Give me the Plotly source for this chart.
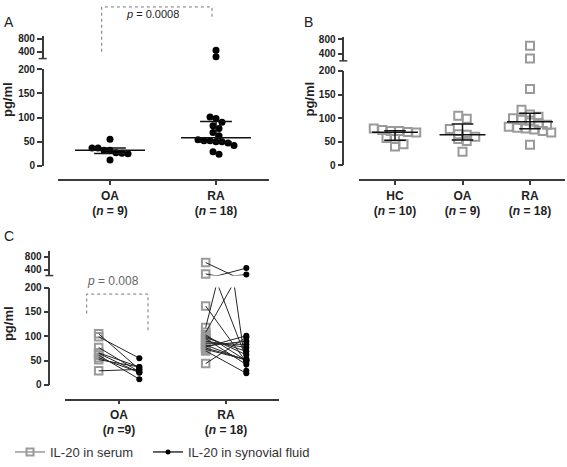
import numpy as np
import plotly.graph_objects as go

W, H = 567, 467

# ---------------- data (pg/ml) ----------------
A_CATS = ["OA<br>(<i>n</i> = 9)", "RA<br>(<i>n</i> = 18)"]
A_OA = [55, 37, 32, 27, 25, 26, 32, 37, 12]
A_RA = [450, 255, 98, 101, 90, 83, 77, 69, 62, 54, 52, 50, 47, 52, 50, 42, 29, 24]

B_CATS = ["HC<br>(<i>n</i> = 10)", "OA<br>(<i>n</i> = 9)", "RA<br>(<i>n</i> = 18)"]
B_HC = [78, 75, 73, 73, 71, 70, 58, 56, 45, 40]
B_OA = [105, 99, 77, 66, 65, 61, 56, 52, 29]
B_RA = [620, 270, 162, 118, 108, 103, 100, 97, 95, 90, 86, 82, 80, 78, 76, 73, 70, 44]

C_CATS = ["OA<br>(<i>n</i> =9)", "RA<br>(<i>n</i> = 18)"]
C_OA_SERUM = [105, 99, 77, 66, 65, 61, 56, 52, 29]
C_OA_SF = [32, 55, 27, 37, 25, 12, 26, 37, 32]
C_RA_SERUM = [620, 270, 162, 118, 108, 103, 100, 97, 95, 90, 86, 82, 80, 78, 76, 73, 70, 44]
C_RA_SF = [29, 54, 47, 450, 255, 50, 62, 69, 42, 77, 83, 50, 90, 101, 52, 52, 24, 98]

LO_TICKS = [0, 50, 100, 150, 200]
HI_TICKS = [400, 800]
P_A = "<i>p</i> = 0.0008"
P_C = "<i>p</i> = 0.008"
LEGEND = ["IL-20 in serum", "IL-20 in synovial fluid"]

# ---------------- styling / geometry ----------------
FONT = "Liberation Sans, Arial, sans-serif"
AX = "#3a3a3a"
GREY = "#9a9a9a"
BREAK = 200


def px(x):
    return x / W


def py(y):
    return 1 - y / H


GEOM = {
    "A": dict(yx=42.7, lo=(165, 66), hi=(55, 31.7), hi_range=(203, 879),
              xline=180, xpx=(58, 269), cat0=110, step=106,
              xa="xaxis", ylo="yaxis", yhi="yaxis2", xr="x", ylr="y", yhr="y2"),
    "B": dict(yx=343.3, lo=(164.7, 67.7), hi=(57.3, 33.3), hi_range=(205, 845),
              xline=180, xpx=(359, 565), cat0=395, step=67.5,
              xa="xaxis2", ylo="yaxis3", yhi="yaxis4", xr="x2", ylr="y3", yhr="y4"),
    "C": dict(yx=49.3, lo=(390, 290), hi=(277.7, 252.7), hi_range=(221, 967),
              xline=405, xpx=(65, 279), cat0=119, step=107,
              xa="xaxis3", ylo="yaxis5", yhi="yaxis6", xr="x3", ylr="y5", yhr="y6"),
}

layout = dict(
    width=W, height=H, margin=dict(l=0, r=0, t=0, b=0),
    paper_bgcolor="white", plot_bgcolor="white",
    font=dict(family=FONT, color="#222"),
    showlegend=True,
)

shapes, annotations = [], []


def setup_axes(g, cats):
    layout[g["xa"]] = dict(
        domain=[px(g["xpx"][0]), px(g["xpx"][1])],
        range=[(g["xpx"][0] - g["cat0"]) / g["step"], (g["xpx"][1] - g["cat0"]) / g["step"]],
        anchor="free", position=py(g["xline"]),
        tickmode="array", tickvals=list(range(len(cats))), ticktext=cats,
        showline=True, linecolor=AX, linewidth=1.5,
        ticks="outside", ticklen=4, tickwidth=1.5, tickcolor=AX,
        showgrid=False, zeroline=False,
        tickfont=dict(size=12, family=FONT, color="#222", weight="bold"),
    )
    common = dict(anchor="free", position=px(g["yx"]), showline=True, linecolor=AX,
                  linewidth=1.5, ticks="outside", ticklen=5, tickwidth=1.5, tickcolor=AX,
                  showgrid=False, zeroline=False, tickmode="array",
                  tickfont=dict(size=10, family=FONT, color="#222", weight="bold"))
    layout[g["ylo"]] = dict(domain=[py(g["lo"][0]), py(g["lo"][1])], range=[0, BREAK],
                            tickvals=LO_TICKS, **common)
    layout[g["yhi"]] = dict(domain=[py(g["hi"][0]), py(g["hi"][1])], range=list(g["hi_range"]),
                            tickvals=HI_TICKS, **common)
    # break mark at bottom of upper segment
    shapes.append(dict(type="line", xref="paper", yref="paper",
                       x0=px(g["yx"] - 4), x1=px(g["yx"] + 4),
                       y0=py(g["hi"][0]), y1=py(g["hi"][0]),
                       line=dict(color=AX, width=1.5)))


def to_px(g, v):
    lo_scale = (g["lo"][0] - g["lo"][1]) / BREAK
    if v <= BREAK:
        return v * lo_scale
    hi_scale = (g["hi"][0] - g["hi"][1]) / (g["hi_range"][1] - g["hi_range"][0])
    return (g["lo"][0] - g["hi"][0]) + (v - g["hi_range"][0]) * hi_scale


def swarm(g, vals, diam, spacing):
    n = len(vals)
    order = sorted(range(n), key=lambda i: -vals[i])
    bins = []
    for i in order:
        p = to_px(g, vals[i])
        if bins and abs(bins[-1][0] - p) < diam:
            bins[-1][1].append(i)
        else:
            bins.append([p, [i]])
    offs = [0.0] * n
    for _, idx in bins:
        k = len(idx)
        for j, i in enumerate(idx):
            offs[i] = (j - (k - 1) / 2) * spacing / g["step"]
    return offs


def split(xs, ys):
    lo = [(x, y) for x, y in zip(xs, ys) if y <= BREAK]
    hi = [(x, y) for x, y in zip(xs, ys) if y > BREAK]
    return lo, hi


def add_points(g, xs, ys, marker):
    lo, hi = split(xs, ys)
    for pts, yr in ((lo, g["ylr"]), (hi, g["yhr"])):
        if not pts:
            continue
        fig_traces.append(go.Scatter(
            x=[p[0] for p in pts], y=[p[1] for p in pts], mode="markers",
            xaxis=g["xr"], yaxis=yr, marker=marker, cliponaxis=False,
            showlegend=False, hoverinfo="y"))


def add_median_iqr(g, cat, vals, half, cap):
    med = float(np.median(vals))
    q1, q3 = np.percentile(vals, [25, 75], method="weibull")
    xs = [cat - half, cat + half, None, cat - cap, cat + cap, None,
          cat - cap, cat + cap, None, cat, cat]
    ys = [med, med, None, q1, q1, None, q3, q3, None, q1, q3]
    fig_traces.append(go.Scatter(x=xs, y=ys, mode="lines", xaxis=g["xr"], yaxis=g["ylr"],
                                 line=dict(color="#111", width=1.5), showlegend=False,
                                 hoverinfo="skip"))


fig_traces = []

# ---------------- Panel A ----------------
gA = GEOM["A"]
setup_axes(gA, A_CATS)
dot = dict(color="#000", size=7)
for cat, vals in enumerate([A_OA, A_RA]):
    offs = swarm(gA, vals, 6.5, 6.0)
    add_points(gA, [cat + o for o in offs], vals, dot)
    add_median_iqr(gA, cat, vals, 0.33, 0.15)

# ---------------- Panel B ----------------
gB = GEOM["B"]
setup_axes(gB, B_CATS)
sq = dict(symbol="square-open", color=GREY, size=8, line=dict(width=2, color=GREY))
for cat, vals in enumerate([B_HC, B_OA, B_RA]):
    offs = swarm(gB, vals, 8.5, 8.5)
    add_points(gB, [cat + o for o in offs], vals, sq)
    add_median_iqr(gB, cat, vals, 0.34, 0.16)

# ---------------- Panel C ----------------
gC = GEOM["C"]
setup_axes(gC, C_CATS)
OFF = 0.19
sqc = dict(symbol="square-open", color=GREY, size=7.5, line=dict(width=2, color=GREY))
dotc = dict(color="#000", size=6)
for cat, ser, sf in ((0, C_OA_SERUM, C_OA_SF), (1, C_RA_SERUM, C_RA_SF)):
    add_points(gC, [cat - OFF] * len(ser), ser, sqc)
    lx, ly = [], []
    for s, f in zip(ser, sf):
        lx += [cat - OFF, cat + OFF, None]
        ly += [s, f, None]
    for yr in (gC["ylr"], gC["yhr"]):
        fig_traces.append(go.Scatter(x=lx, y=ly, mode="lines", xaxis=gC["xr"], yaxis=yr,
                                     line=dict(color="#262626", width=1), showlegend=False,
                                     hoverinfo="skip"))
    add_points(gC, [cat + OFF] * len(sf), sf, dotc)

# legend entries (two separately placed legends)
fig_traces.append(go.Scatter(x=[None], y=[None], mode="lines+markers", name=LEGEND[0],
                             xaxis="x3", yaxis="y5", legend="legend",
                             line=dict(color=GREY, width=1.5),
                             marker=dict(symbol="square-open", color=GREY, size=7,
                                         line=dict(width=2, color=GREY))))
fig_traces.append(go.Scatter(x=[None], y=[None], mode="lines+markers", name=LEGEND[1],
                             xaxis="x3", yaxis="y5", legend="legend2",
                             line=dict(color="#000", width=1.2),
                             marker=dict(color="#000", size=5)))

# ---------------- decorations ----------------
def bracket(pts, color):
    path = "M " + " L ".join(f"{px(x)},{py(y)}" for x, y in pts)
    shapes.append(dict(type="path", xref="paper", yref="paper", path=path,
                       line=dict(color=color, width=1, dash="dot")))


bracket([(101.7, 48), (101.7, 2), (212, 2), (212, 12)], "#777")
bracket([(86.7, 316.7), (86.7, 296.7), (148, 296.7), (148, 337)], "#777")


def label(x, y, text, **font):
    annotations.append(dict(x=px(x), y=py(y), xref="paper", yref="paper", text=text,
                            xanchor="center", yanchor="middle", showarrow=False,
                            font=dict(family=FONT, **font)))


label(152, 9.5, P_A, size=11, color="#222")
label(112.5, 283.3, P_C, size=12, color="#666")
for lab, (x, y) in {"A": (8.5, 17), "B": (308, 17), "C": (8.5, 237)}.items():
    label(x, y, lab, size=14, color="#222")
for (x, y) in [(7.5, 97), (310, 97), (8.5, 327)]:
    annotations.append(dict(x=px(x), y=py(y), xref="paper", yref="paper", text="pg/ml",
                            xanchor="center", yanchor="middle",
                            textangle=-90, showarrow=False,
                            font=dict(size=13, color="#222", family=FONT, weight="bold")))

layout["shapes"] = shapes
layout["annotations"] = annotations
leg_common = dict(orientation="h", y=py(459), xanchor="left", yanchor="middle",
                  font=dict(size=13, color="#333", family=FONT),
                  bgcolor="rgba(0,0,0,0)", itemwidth=30)
layout["legend"] = dict(x=px(10), **leg_common)
layout["legend2"] = dict(x=px(148), **leg_common)

fig = go.Figure(data=fig_traces, layout=layout)
fig.write_html("out.html", config={"displayModeBar": False},
               post_script="document.body.style.margin='0';document.body.style.overflow='hidden';")
